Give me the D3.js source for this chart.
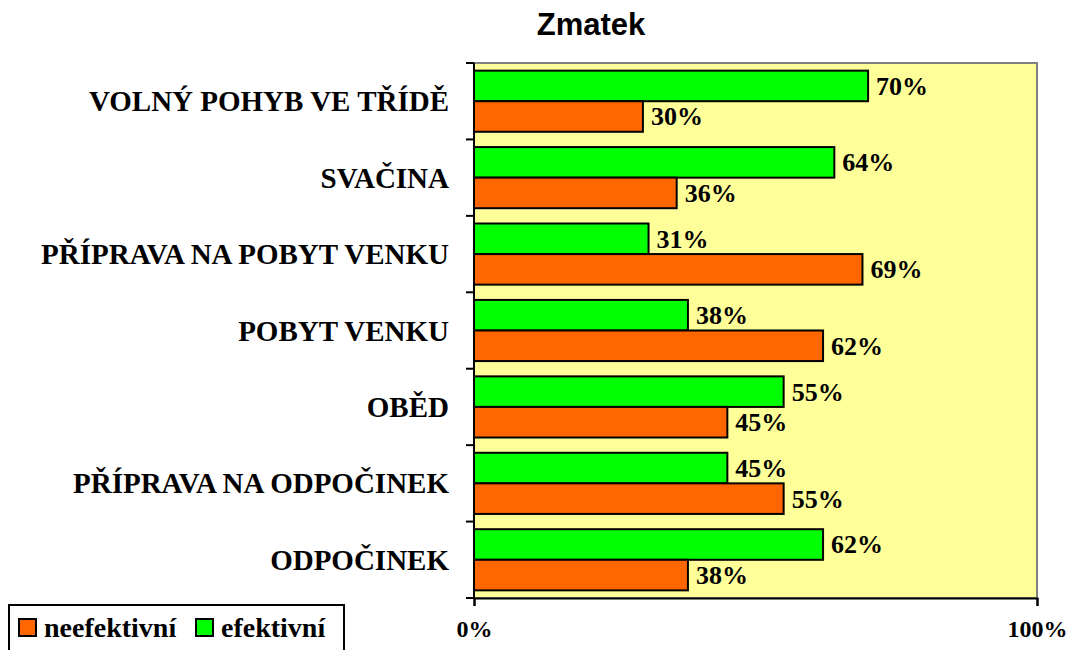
<!DOCTYPE html>
<html>
<head>
<meta charset="utf-8">
<script src="https://cdn.jsdelivr.net/npm/d3@7"></script>
<style>
  body { margin: 0; background: #fff; }
  svg { display: block; }
</style>
</head>
<body>
<svg id="chart" width="1067" height="650"></svg>
<script>
// data
const categories = ['VOLNÝ POHYB VE TŘÍDĚ', 'SVAČINA', 'PŘÍPRAVA NA POBYT VENKU', 'POBYT VENKU', 'OBĚD', 'PŘÍPRAVA NA ODPOČINEK', 'ODPOČINEK'];
const efektivni = [70, 64, 31, 38, 55, 45, 62];
const neefektivni = [30, 36, 69, 62, 45, 55, 38];
const seriesNames = ['efektivní', 'neefektivní'];
const xTicks = [0, 100];

const colors = { 'efektivní': '#00ff00', 'neefektivní': '#ff6600' };
const serif = '"Liberation Serif", "Times New Roman", serif';

const plot = { left: 474, right: 1037, top: 63, bottom: 598 };

const svg = d3.select('#chart');

// scales
const x = d3.scaleLinear().domain([0, 100]).range([plot.left, plot.right]);
const y = d3.scaleBand().domain(categories).range([plot.top, plot.bottom]).paddingInner(0.2).paddingOuter(0.1);
const ySub = d3.scaleBand().domain(seriesNames).range([0, y.bandwidth()]);
const yOuter = d3.scaleBand().domain(categories).range([plot.top, plot.bottom]);

// plot background
svg.append('rect')
  .attr('x', plot.left).attr('y', plot.top)
  .attr('width', plot.right - plot.left).attr('height', plot.bottom - plot.top)
  .attr('fill', '#ffff99')
  .attr('stroke', '#808080').attr('stroke-width', 2);

// title
svg.append('text')
  .attr('x', 591).attr('y', 35)
  .attr('text-anchor', 'middle')
  .style('font-family', 'Arial, "Liberation Sans", sans-serif')
  .style('font-weight', 'bold').style('font-size', '31px')
  .text('Zmatek');

// bars
const rows = categories.map((c, i) => ({ cat: c, values: [
  { s: 'efektivní', v: efektivni[i] },
  { s: 'neefektivní', v: neefektivni[i] }
]}));

const g = svg.selectAll('g.cat').data(rows).enter().append('g')
  .attr('class', 'cat')
  .attr('transform', d => 'translate(0,' + y(d.cat) + ')');

g.selectAll('rect').data(d => d.values).enter().append('rect')
  .attr('x', x(0))
  .attr('y', d => ySub(d.s))
  .attr('width', d => x(d.v) - x(0))
  .attr('height', ySub.bandwidth())
  .attr('fill', d => colors[d.s])
  .attr('stroke', '#000').attr('stroke-width', 2);

g.selectAll('text').data(d => d.values).enter().append('text')
  .attr('x', d => x(d.v) + 8)
  .attr('y', d => ySub(d.s) + ySub.bandwidth() / 2 + 9)
  .style('font-family', serif).style('font-weight', 'bold').style('font-size', '26px')
  .text(d => d.v + '%');

// left axis
const yAxis = svg.append('g')
  .attr('transform', 'translate(' + plot.left + ',0)');
yAxis.append('line')
  .attr('x1', 0).attr('x2', 0).attr('y1', plot.top).attr('y2', plot.bottom)
  .attr('stroke', '#000').attr('stroke-width', 2);
yAxis.selectAll('line.tick').data(categories.concat(['end'])).enter().append('line')
  .attr('class', 'tick')
  .attr('x1', -8).attr('x2', 0)
  .attr('y1', (d, i) => i < categories.length ? yOuter(d) : plot.bottom)
  .attr('y2', (d, i) => i < categories.length ? yOuter(d) : plot.bottom)
  .attr('stroke', '#000').attr('stroke-width', 2);

svg.selectAll('text.cat-label').data(categories).enter().append('text')
  .attr('class', 'cat-label')
  .attr('x', 449)
  .attr('y', d => yOuter(d) + yOuter.bandwidth() / 2 + 10)
  .attr('text-anchor', 'end')
  .style('font-family', serif).style('font-weight', 'bold').style('font-size', '29px')
  .text(d => d);

// bottom axis
const xAxis = svg.append('g')
  .attr('transform', 'translate(0,' + plot.bottom + ')')
  .call(d3.axisBottom(x).tickValues(xTicks).tickSize(8).tickPadding(14).tickFormat(d => d + '%'));
xAxis.select('.domain').attr('stroke', '#000').attr('stroke-width', 2);
xAxis.selectAll('.tick line').attr('stroke', '#000').attr('stroke-width', 2);
xAxis.selectAll('.tick text')
  .style('font-family', serif).style('font-weight', 'bold').style('font-size', '24px')
  .attr('fill', '#000');

// legend
const legend = svg.append('g').attr('transform', 'translate(9,605)');
legend.append('rect')
  .attr('width', 335).attr('height', 50)
  .attr('fill', '#fff').attr('stroke', '#000').attr('stroke-width', 2);
const legendItems = [
  { s: 'neefektivní', x: 10 },
  { s: 'efektivní', x: 187 }
];
const li = legend.selectAll('g.item').data(legendItems).enter().append('g')
  .attr('transform', d => 'translate(' + d.x + ',0)');
li.append('rect')
  .attr('x', 0).attr('y', 14).attr('width', 17).attr('height', 17)
  .attr('fill', d => colors[d.s]).attr('stroke', '#000').attr('stroke-width', 2);
li.append('text')
  .attr('x', 25).attr('y', 32)
  .style('font-family', serif).style('font-weight', 'bold').style('font-size', '28px')
  .text(d => d.s);
</script>
</body>
</html>
